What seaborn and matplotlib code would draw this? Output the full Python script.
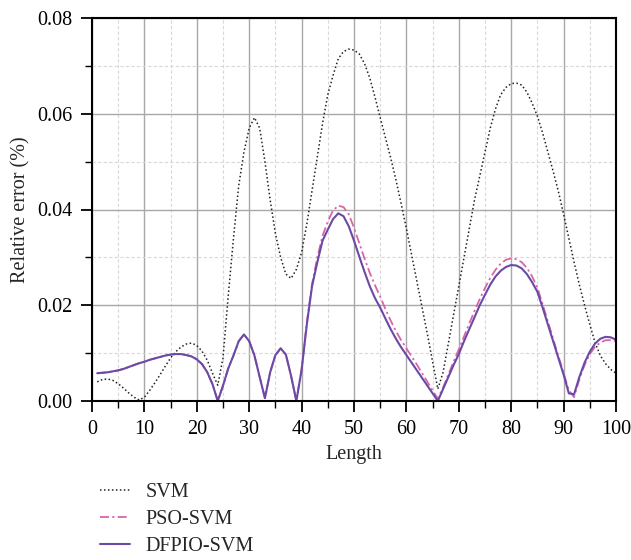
import numpy as np
import pandas as pd
import matplotlib
matplotlib.use("Agg")
import matplotlib.pyplot as plt
import seaborn as sns
from matplotlib.ticker import MultipleLocator

length = list(range(1, 101))

svm = [0.0040, 0.0045, 0.0046, 0.0043, 0.0036, 0.0027, 0.0017, 0.0008, 0.0002, 0.0008,
       0.0022, 0.0038, 0.0055, 0.0073, 0.0090, 0.0103, 0.0113, 0.0119, 0.0121, 0.0116,
       0.0104, 0.0085, 0.0058, 0.0033, 0.0090, 0.0220, 0.0340, 0.0450, 0.0520, 0.0570,
       0.0592, 0.0570, 0.0500, 0.0420, 0.0350, 0.0300, 0.0265, 0.0256, 0.0275, 0.0310,
       0.0370, 0.0440, 0.0510, 0.0580, 0.0640, 0.0680, 0.0715, 0.0730, 0.0735, 0.0733,
       0.0725, 0.0705, 0.0675, 0.0635, 0.0592, 0.0550, 0.0508, 0.0462, 0.0412, 0.0360,
       0.0305, 0.0250, 0.0195, 0.0140, 0.0082, 0.0025, 0.0060, 0.0120, 0.0180, 0.0240,
       0.0300, 0.0360, 0.0420, 0.0470, 0.0520, 0.0570, 0.0610, 0.0640, 0.0655, 0.0663,
       0.0664, 0.0660, 0.0645, 0.0622, 0.0595, 0.0560, 0.0520, 0.0480, 0.0438, 0.0390,
       0.0340, 0.0290, 0.0243, 0.0200, 0.0160, 0.0122, 0.0095, 0.0078, 0.0066, 0.0058]

dfpio = [0.0058, 0.0059, 0.0060, 0.0062, 0.0064, 0.0067, 0.0071, 0.0075, 0.0079, 0.0082,
         0.0086, 0.0089, 0.0092, 0.0095, 0.0097, 0.0098, 0.0098, 0.0096, 0.0093, 0.0087,
         0.0077, 0.0060, 0.0035, 0.0000, 0.0032, 0.0068, 0.0095, 0.0125, 0.0139, 0.0125,
         0.0095, 0.0050, 0.0006, 0.0060, 0.0096, 0.0110, 0.0097, 0.0052, 0.0000, 0.0065,
         0.0160, 0.0240, 0.0290, 0.0335, 0.0358, 0.0380, 0.0392, 0.0386, 0.0365, 0.0335,
         0.0302, 0.0270, 0.0240, 0.0215, 0.0195, 0.0172, 0.0150, 0.0130, 0.0112, 0.0096,
         0.0080, 0.0064, 0.0048, 0.0032, 0.0016, 0.0000, 0.0025, 0.0050, 0.0075, 0.0098,
         0.0125, 0.0150, 0.0175, 0.0200, 0.0222, 0.0243, 0.0260, 0.0272, 0.0280, 0.0284,
         0.0283, 0.0277, 0.0265, 0.0248, 0.0228, 0.0195, 0.0160, 0.0125, 0.0090, 0.0055,
         0.0016, 0.0014, 0.0050, 0.0080, 0.0103, 0.0120, 0.0130, 0.0134, 0.0133, 0.0128]

pso = [0.0058, 0.0059, 0.0060, 0.0062, 0.0064, 0.0067, 0.0071, 0.0075, 0.0079, 0.0082,
       0.0086, 0.0089, 0.0092, 0.0095, 0.0097, 0.0098, 0.0098, 0.0096, 0.0093, 0.0087,
       0.0077, 0.0060, 0.0035, 0.0000, 0.0032, 0.0068, 0.0095, 0.0125, 0.0139, 0.0125,
       0.0095, 0.0050, 0.0006, 0.0060, 0.0096, 0.0110, 0.0097, 0.0052, 0.0000, 0.0066,
       0.0165, 0.0245, 0.0300, 0.0345, 0.0375, 0.0398, 0.0408, 0.0405, 0.0390, 0.0362,
       0.0330, 0.0298, 0.0268, 0.0242, 0.0218, 0.0192, 0.0168, 0.0146, 0.0127, 0.0110,
       0.0093, 0.0076, 0.0058, 0.0040, 0.0022, 0.0005, 0.0028, 0.0055, 0.0082, 0.0108,
       0.0135, 0.0162, 0.0188, 0.0213, 0.0236, 0.0257, 0.0274, 0.0287, 0.0295, 0.0298,
       0.0296, 0.0290, 0.0278, 0.0260, 0.0237, 0.0202, 0.0166, 0.0130, 0.0094, 0.0058,
       0.0022, 0.0008, 0.0045, 0.0075, 0.0098, 0.0113, 0.0122, 0.0127, 0.0127, 0.0125]

series_names = ["SVM", "PSO-SVM", "DFPIO-SVM"]

sns.set_theme(style="white")
plt.rcParams['font.family'] = ['Liberation Serif', 'DejaVu Serif']

fig = plt.figure(figsize=(6.31, 5.60), dpi=100)
ax = fig.add_axes([92/631, 1-401/560, (616-92)/631, (401-18)/560])

ax.set_axisbelow(True)
ax.grid(which='major', color='#a8a8a8', linewidth=1.0, linestyle='-')
ax.grid(which='minor', color='#d8d8d8', linewidth=0.8, linestyle=(0, (3, 2)))

df = pd.DataFrame({"Length": length, "SVM": svm, "PSO-SVM": pso, "DFPIO-SVM": dfpio})

sns.lineplot(data=df, x="Length", y="SVM", ax=ax, color="#222222",
             linestyle=(0, (1, 1.6)), linewidth=1.1, label=series_names[0])
sns.lineplot(data=df, x="Length", y="PSO-SVM", ax=ax, color="#d865a8",
             linestyle=(0, (5, 1.8, 1.2, 1.8)), linewidth=1.3, label=series_names[1])
sns.lineplot(data=df, x="Length", y="DFPIO-SVM", ax=ax, color="#6a4aa6",
             linestyle='-', linewidth=1.5, label=series_names[2])

ax.set_xlim(0, 100)
ax.set_ylim(0, 0.08)
ax.xaxis.set_major_locator(MultipleLocator(10))
ax.xaxis.set_minor_locator(MultipleLocator(5))
ax.yaxis.set_major_locator(MultipleLocator(0.02))
ax.yaxis.set_minor_locator(MultipleLocator(0.01))
ax.yaxis.set_major_formatter(matplotlib.ticker.FormatStrFormatter('%.2f'))

ax.tick_params(which='major', direction='out', length=8, width=1.3, labelsize=14.5,
               bottom=True, left=True, colors='black')
ax.tick_params(axis='x', which='major', pad=6)
ax.tick_params(axis='y', which='major', pad=6)
ax.tick_params(which='minor', direction='out', length=5, width=1.0,
               bottom=True, left=True, colors='black')
for s in ax.spines.values():
    s.set_color('black')
    s.set_linewidth(1.5)

ax.set_xlabel("Length", fontsize=14.5, labelpad=4)
ax.set_ylabel("Relative error (%)", fontsize=14.5, labelpad=5)

handles, labels = ax.get_legend_handles_labels()
ax.get_legend().remove()
fig.legend(handles, labels, loc='upper left', bbox_to_anchor=(0.146, 0.152),
           frameon=False, fontsize=14.5, handlelength=1.5, labelspacing=0.4,
           handletextpad=0.75, borderaxespad=0)

fig.savefig("out.png", dpi=100)
